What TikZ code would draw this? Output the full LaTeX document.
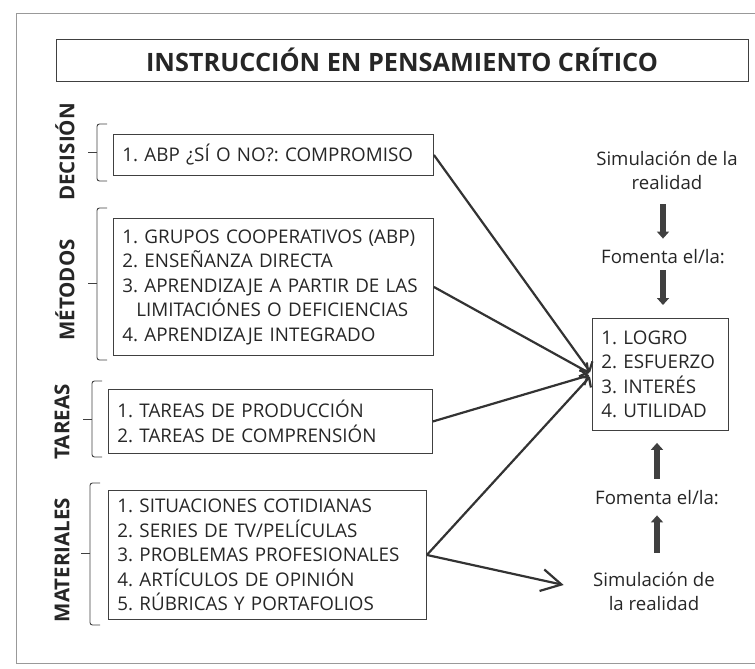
\documentclass[tikz,border=0pt]{standalone}
\usepackage{fontspec}
\setmainfont{Open Sans}
\usepackage{tikz}
\usetikzlibrary{arrows.meta,positioning,calc}

\newcommand{\cuerpo}{\fontsize{18.8}{24.5}\selectfont\frenchspacing}
\newcommand{\lado}{\fontsize{18.6}{24}\selectfont}
\newcommand{\rotulo}{\fontsize{20.5}{22}\selectfont\bfseries}

\begin{document}
\begin{tikzpicture}[x=1pt,y=-1pt,
    marco/.style={draw=black!40,line width=1pt},
    titulo/.style={draw=black!75,line width=0.9pt,minimum width=692pt,minimum height=42pt,inner sep=0pt,text=black!85,font=\fontsize{25.3}{27}\selectfont\bfseries},
    caja/.style={draw=black!75,line width=0.9pt,anchor=north west,align=left,inner xsep=9pt,inner ysep=0pt,text=black!85,font=\cuerpo},
    etiqueta/.style={rotate=90,inner sep=0pt,text=black!85,font=\rotulo},
    texto/.style={align=center,inner sep=2pt,text=black!85,font=\lado},
    llave/.style={draw=black!75,line width=0.9pt,rounded corners=2.5pt},
    enlace/.style={draw=black!80,line width=2.2pt,shorten >=3pt,-{Straight Barb[length=6pt,width=16pt]}},
    abierta/.style={draw=black!80,line width=2.2pt,-{Straight Barb[length=20pt,width=22pt]}},
    flecha/.style={draw=black!75,line width=5.5pt,-{Triangle[length=7pt,width=12pt]}}]
                      \useasboundingbox (0,0) rectangle (755,669);
                      \draw[marco] (755,14) -- (16,14) -- (16,663) -- (755,663);
                      \node[titulo] (titulo) at (402,60) {INSTRUCCIÓN EN PENSAMIENTO CRÍTICO};
                      % columna de la izquierda
                      \node[etiqueta] (lDecision) at (65,152) {DECISIÓN};
                      \node[etiqueta] (lMetodos) at (65,290) {MÉTODOS};
                      \node[etiqueta] (lTareas) at (62,422) {TAREAS};
                      \node[etiqueta] (lMateriales) at (62,560) {MATERIALES};
                      \draw[llave] (107,124) -- (97,124) -- (97,181) -- (107,181);
                      \draw[llave] (97,152) -- (88,152);
                      \draw[llave] (107,208) -- (97,208) -- (97,360) -- (107,360);
                      \draw[llave] (97,283) -- (88,283);
                      \draw[llave] (102,381) -- (92,381) -- (92,457) -- (102,457);
                      \draw[llave] (92,419) -- (83,419);
                      \draw[llave] (100,483) -- (90,483) -- (90,625) -- (100,625);
                      \draw[llave] (90,553) -- (81,553);
                      \node[caja,text width=302pt,minimum height=41pt] (decision) at (113,134) {1. ABP ¿SÍ O NO?: COMPROMISO};
                      \node[caja,text width=302pt,minimum height=137pt] (metodos) at (113,218) {1. GRUPOS COOPERATIVOS (ABP)\\2. ENSEÑANZA DIRECTA\\3. APRENDIZAJE A PARTIR DE LAS\\\hspace*{14pt}LIMITACIÓNES O DEFICIENCIAS\\4. APRENDIZAJE INTEGRADO};
                      \node[caja,text width=306pt,minimum height=64pt] (tareas) at (108,389) {1. TAREAS DE PRODUCCIÓN\\2. TAREAS DE COMPRENSIÓN};
                      \node[caja,text width=300pt,minimum height=129pt] (materiales) at (108,490) {1. SITUACIONES COTIDIANAS\\2. SERIES DE TV/PELÍCULAS\\3. PROBLEMAS PROFESIONALES\\4. ARTÍCULOS DE OPINIÓN\\5. RÚBRICAS Y PORTAFOLIOS};
                      % columna de la derecha
                      \node[caja,text width=118pt,minimum height=112pt] (resultado) at (592,318) {1. LOGRO\\2. ESFUERZO\\3. INTERÉS\\4. UTILIDAD};
                      \node[texto] (sim1) at (667,170) {Simulación de la\\realidad};
                      \node[texto] (fom1) at (663,257) {Fomenta el/la:};
                      \node[texto] (fom2) at (657,498) {Fomenta el/la:};
                      \node[texto] (sim2) at (654,591) {Simulación de\\la realidad};
                      \draw[flecha,shorten <=13pt,shorten >=9pt] (fom1 |- sim1.south) -- (fom1.north);
                      \draw[flecha,shorten <=4pt,shorten >=13pt] (fom1.south) -- (fom1.south |- resultado.north);
                      \draw[flecha,shorten <=10pt,shorten >=12pt] (fom2.north) -- (fom2.north |- resultado.south);
                      \draw[flecha,shorten <=17pt,shorten >=8pt] (fom2 |- sim2.north) -- (fom2.south);
                      % enlaces hacia el resultado
                      \draw[enlace] (decision.east) -- (resultado.west);
                      \draw[enlace] (metodos.east) -- (resultado.west);
                      \draw[enlace] (tareas.east) -- (resultado.west);
                      \draw[enlace] (materiales.east) -- (resultado.west);
                      \draw[abierta,shorten >=28pt] (materiales.east) -- (sim2.west);
                  \end{tikzpicture}
\end{document}
